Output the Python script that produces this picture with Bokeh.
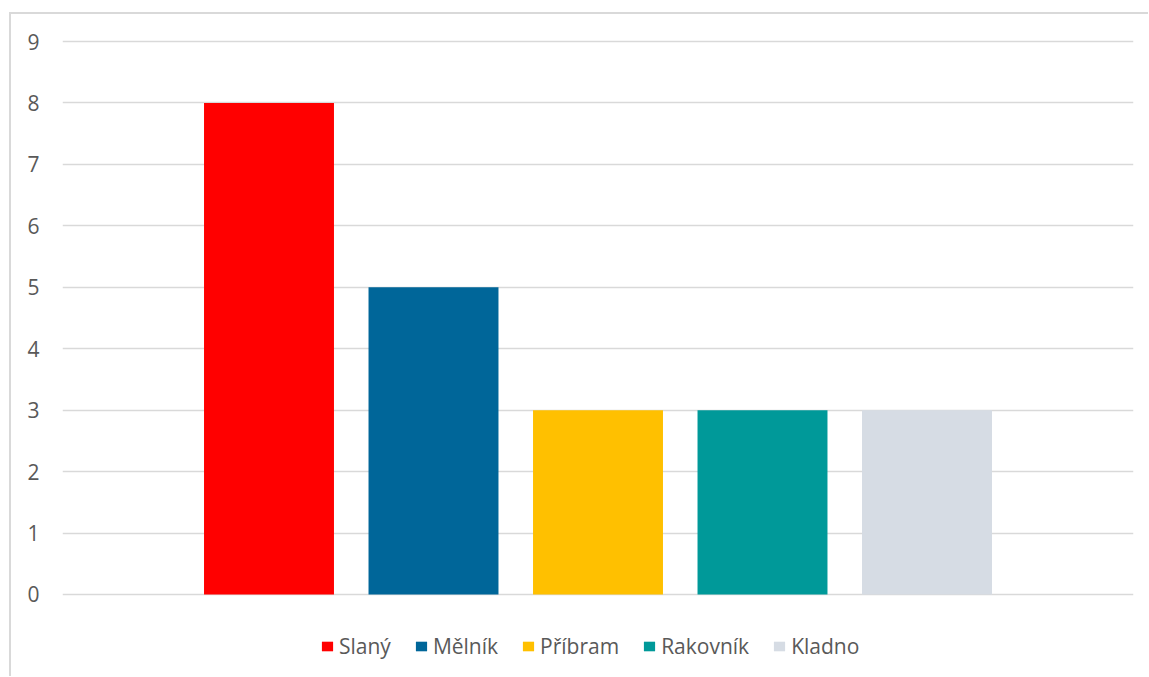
import numpy as np
from bokeh.plotting import figure
from bokeh.models import Range1d, Legend, LegendItem, FixedTicker
from bokeh.layouts import column
from bokeh.embed import file_html
from bokeh.resources import INLINE

series = ["Slaný", "Mělník", "Příbram", "Rakovník", "Kladno"]
values = [8, 5, 3, 3, 3]
colors = ["#FF0000", "#006699", "#FFC000", "#009999", "#D6DCE4"]
y_ticks = [0, 1, 2, 3, 4, 5, 6, 7, 8, 9]

FONT = "Open Sans"
TEXT_COLOR = "#595959"
GRID_COLOR = "#d9d9d9"

# frame extends below 0 so that the legend sits inside it (no clipping)
p = figure(width=1137, height=662, output_backend="svg", toolbar_location=None,
           x_range=Range1d(-1.2553, 5.2553), y_range=Range1d(-1.237, 9.0326),
           x_axis_location=None,
           min_border_left=51, min_border_right=15, min_border_top=25,
           min_border_bottom=6)
p.outline_line_color = None
p.background_fill_color = "white"
p.border_fill_color = "white"

positions = np.arange(len(series))
items = []
for i, (name, val, col) in enumerate(zip(series, values, colors)):
    r = p.vbar(x=[positions[i]], top=[val], bottom=0, width=0.79,
               fill_color=col, line_color=None)
    items.append(LegendItem(label=name, renderers=[r]))

p.xgrid.visible = False
p.ygrid.grid_line_color = GRID_COLOR
p.ygrid.grid_line_width = 1.5
p.ygrid.ticker = FixedTicker(ticks=y_ticks)

yax = p.yaxis[0]
yax.ticker = FixedTicker(ticks=y_ticks)
yax.axis_line_color = None
yax.major_tick_line_color = None
yax.minor_tick_line_color = None
yax.major_tick_in = 0
yax.major_tick_out = 0
yax.major_label_standoff = 23
yax.major_label_text_font = FONT
yax.major_label_text_font_size = "21px"
yax.major_label_text_color = TEXT_COLOR

legend = Legend(items=items, location=(258, 10), orientation="horizontal")
legend.padding = 0
legend.margin = 0
legend.spacing = 23
legend.label_standoff = 5
legend.glyph_width = 14
legend.glyph_height = 12
legend.label_text_font = FONT
legend.label_text_font_size = "21px"
legend.label_text_color = TEXT_COLOR
legend.border_line_color = None
legend.background_fill_alpha = 0
p.add_layout(legend, "center")

layout = column(p, margin=(12, 0, 0, 9),
                styles={"border-top": "2px solid #d9d9d9",
                        "border-left": "2px solid #d9d9d9"})

open("out.html", "w").write(file_html(layout, INLINE))
